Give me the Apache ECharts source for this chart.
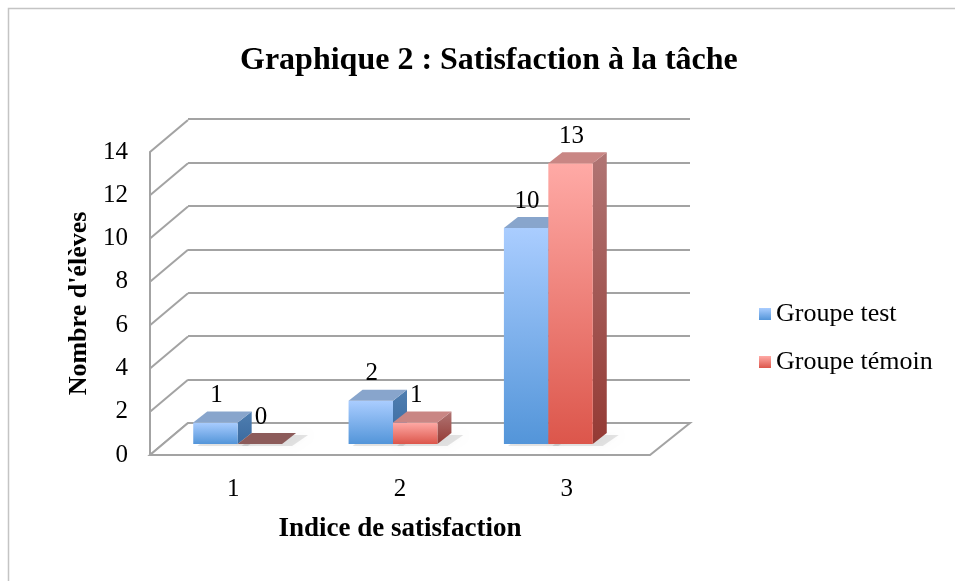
<!DOCTYPE html>
<html><head><meta charset="utf-8">
<script src="https://cdn.jsdelivr.net/npm/echarts@6/dist/echarts.min.js"></script>
<style>html,body{margin:0;padding:0;background:#fff}#c{width:955px;height:581px}</style>
</head><body><div id="c"></div>
<script>
const titleText = 'Graphique 2 : Satisfaction à la tâche';
const categories = ['1', '2', '3'];
const groupeTest = [1, 2, 10];
const groupeTemoin = [0, 1, 13];
const seriesNames = ['Groupe test', 'Groupe témoin'];
const yMin = 0, yMax = 14, yInterval = 2;
const yTicks = [0, 2, 4, 6, 8, 10, 12, 14];
const xAxisName = 'Indice de satisfaction';
const yAxisName = "Nombre d'élèves";

const FONT = "'Liberation Serif','Times New Roman',serif";
const GRID_COLOR = '#a3a3a3';
const WALL_DX = 38, WALL_DY = -32;
const BAR_DX = 14, BAR_DY = -11;

const styles = [
  { front: ['#aacdff', '#5395d9'], top: '#88a5cc', side: ['#4f7eb0', '#3a6aa0'], zeroTop: '#5f7fa8' },
  { front: ['#ffaaa6', '#dc564b'], top: '#c98684', side: ['#b07574', '#943a34'], zeroTop: '#8c5b5a' }
];

function grad(c) {
  return new echarts.graphic.LinearGradient(0, 0, 0, 1, [{ offset: 0, color: c[0] }, { offset: 1, color: c[1] }]);
}

function barRenderer(si) {
  return function (params, api) {
    const cat = api.value(0), v = api.value(1);
    const base = api.coord([cat, 0]);
    const top = api.coord([cat, v]);
    const band = api.size([1, 0])[0];
    const bw = band * 0.286;
    const x0 = si === 0 ? base[0] - bw : base[0];
    const x1 = x0 + bw;
    const yb = base[1], yt = top[1];
    const st = styles[si];
    const children = [];
    children.push({ type: 'polygon', shape: { points: [[x0 + 4, yb + 2], [x1 + 10, yb + 2], [x1 + BAR_DX + 12, yb + BAR_DY + 2], [x0 + BAR_DX + 4, yb + BAR_DY + 2]] },
      style: { fill: 'rgba(0,0,0,0.10)', shadowBlur: 6, shadowColor: 'rgba(0,0,0,0.25)' }, z2: 1 });
    if (v > 0) {
      children.push({ type: 'rect', shape: { x: x0, y: yt, width: bw, height: yb - yt }, style: { fill: grad(st.front) }, z2: 5 });
      children.push({ type: 'polygon', shape: { points: [[x1, yt], [x1 + BAR_DX, yt + BAR_DY], [x1 + BAR_DX, yb + BAR_DY], [x1, yb]] }, style: { fill: grad(st.side) }, z2: 4 });
      children.push({ type: 'polygon', shape: { points: [[x0, yt], [x1, yt], [x1 + BAR_DX, yt + BAR_DY], [x0 + BAR_DX, yt + BAR_DY]] }, style: { fill: st.top }, z2: 6 });
    } else {
      children.push({ type: 'polygon', shape: { points: [[x0, yt], [x1, yt], [x1 + BAR_DX, yt + BAR_DY], [x0 + BAR_DX, yt + BAR_DY]] }, style: { fill: st.zeroTop }, z2: 6 });
    }
    children.push({ type: 'text', style: { text: String(v), x: x0 + bw / 2 + 1, y: yt - 27, align: 'center', verticalAlign: 'middle', font: '25px ' + FONT, fill: '#000' }, z2: 10 });
    return { type: 'group', children: children };
  };
}

const chart = echarts.init(document.getElementById('c'), null, { renderer: 'canvas' });
chart.setOption({
  backgroundColor: '#fff',
  animation: false,
  title: {
    text: titleText, left: 235, top: 40,
    textStyle: { fontFamily: FONT, fontSize: 32, fontWeight: 'bold', color: '#000' }
  },
  graphic: [
    { type: 'rect', shape: { x: 8.5, y: 8.5, width: 1000, height: 1000 }, style: { fill: 'none', stroke: '#c4c4c4', lineWidth: 1.5 }, z: -10 }
  ],
  legend: {
    orient: 'vertical', left: 754, top: 296, itemWidth: 12, itemHeight: 12, itemGap: 22, icon: 'rect',
    data: seriesNames,
    textStyle: { fontFamily: FONT, fontSize: 26, color: '#000', padding: [0, 0, 0, 0] }
  },
  grid: [
    { left: 188, top: 119, width: 502, height: 304 },
    { left: 150, top: 152, width: 500, height: 303 },
    { left: 160, top: 141.6, width: 466, height: 302.4 }
  ],
  xAxis: [
    { gridIndex: 0, type: 'category', data: categories, show: false },
    { gridIndex: 1, type: 'category', data: categories, axisLine: { show: false }, axisTick: { show: false },
      axisLabel: { fontFamily: FONT, fontSize: 25, color: '#000', margin: 22 },
      name: xAxisName, nameLocation: 'middle', nameGap: 61,
      nameTextStyle: { fontFamily: FONT, fontSize: 27, fontWeight: 'bold', color: '#000' } },
    { gridIndex: 2, type: 'category', data: categories, show: false }
  ],
  yAxis: [
    { gridIndex: 0, type: 'value', min: yMin, max: yMax, interval: yInterval, axisLabel: { show: false },
      axisLine: { show: false }, axisTick: { show: false },
      splitLine: { show: true, lineStyle: { color: GRID_COLOR, width: 2 } } },
    { gridIndex: 1, type: 'value', min: yMin, max: yMax, interval: yInterval,
      axisLine: { show: true, lineStyle: { color: GRID_COLOR, width: 2 } }, axisTick: { show: false },
      splitLine: { show: false },
      axisLabel: { fontFamily: FONT, fontSize: 25, color: '#000', margin: 22 },
      name: yAxisName, nameLocation: 'middle', nameGap: 58, nameRotate: 90,
      nameTextStyle: { fontFamily: FONT, fontSize: 26, fontWeight: 'bold', color: '#000' } },
    { gridIndex: 2, type: 'value', min: yMin, max: yMax, show: false }
  ],
  series: [
    {
      type: 'custom', xAxisIndex: 1, yAxisIndex: 1, silent: true, z: 1,
      data: yTicks.map(t => [0, t]),
      renderItem: function (params, api) {
        const p = api.coord([0, api.value(1)]);
        const x = params.coordSys.x;
        return { type: 'line', shape: { x1: x, y1: p[1], x2: x + WALL_DX, y2: p[1] + WALL_DY }, style: { stroke: GRID_COLOR, lineWidth: 2 } };
      }
    },
    {
      type: 'custom', xAxisIndex: 1, yAxisIndex: 1, silent: true, z: 1,
      data: [[0, 0]],
      renderItem: function (params, api) {
        const cs = params.coordSys;
        const y = api.coord([0, 0])[1];
        return { type: 'polygon', shape: { points: [[cs.x, y], [cs.x + cs.width, y], [cs.x + cs.width + WALL_DX + 2, y + WALL_DY], [cs.x + WALL_DX, y + WALL_DY]] },
          style: { fill: '#fff', stroke: GRID_COLOR, lineWidth: 2 } };
      }
    },
    { name: seriesNames[0], type: 'custom', xAxisIndex: 2, yAxisIndex: 2, z: 3,
      itemStyle: { color: grad(styles[0].front) },
      data: groupeTest.map((v, i) => [i, v]), renderItem: barRenderer(0) },
    { name: seriesNames[1], type: 'custom', xAxisIndex: 2, yAxisIndex: 2, z: 4,
      itemStyle: { color: grad(styles[1].front) },
      data: groupeTemoin.map((v, i) => [i, v]), renderItem: barRenderer(1) }
  ]
});
</script></body></html>
